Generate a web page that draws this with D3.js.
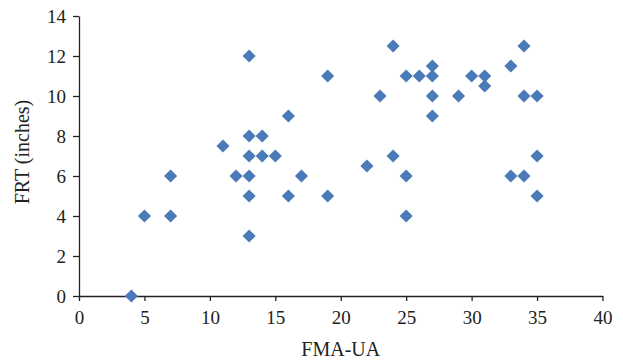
<!DOCTYPE html>
<html>
<head>
<meta charset="utf-8">
<script src="https://cdn.jsdelivr.net/npm/d3@7"></script>
<style>
  body { margin: 0; background: #fff; }
  svg { display: block; }
  .axis text { font-family: "Liberation Serif", serif; font-size: 19px; fill: #222; }
  .axis path, .axis line { stroke: #222; stroke-width: 1.3px; }
  .title { font-family: "Liberation Serif", serif; font-size: 20px; fill: #222; }
</style>
</head>
<body>
<div class="vis"></div>
<script>
// FMA-UA score vs FRT (inches)
var fmaUA = [4, 5, 7, 7, 11, 12, 13, 13, 13, 13, 13, 13, 14, 14, 15, 16, 16, 17, 19, 19,
  22, 23, 24, 24, 25, 25, 25, 26, 27, 27, 27, 27, 29, 30, 31, 31, 33, 33, 34, 34, 34, 35, 35, 35];
var frt = [0, 4, 6, 4, 7.5, 6, 12, 8, 7, 6, 5, 3, 8, 7, 7, 9, 5, 6, 11, 5,
  6.5, 10, 12.5, 7, 11, 6, 4, 11, 11.5, 11, 10, 9, 10, 11, 11, 10.5, 11.5, 6, 12.5, 10, 6, 10, 7, 5];
var xTicks = [0, 5, 10, 15, 20, 25, 30, 35, 40];
var yTicks = [0, 2, 4, 6, 8, 10, 12, 14];

var width = 623, height = 362;
var margin = { left: 79, right: 20, top: 16, bottom: 66 };

var svg = d3.select(".vis").append("svg")
  .attr("width", width)
  .attr("height", height);

var x = d3.scaleLinear().domain([0, 40]).range([margin.left, 602.5]);
var y = d3.scaleLinear().domain([0, 14]).range([296, margin.top]);

var xAxis = svg.append("g")
  .attr("class", "axis")
  .attr("transform", "translate(0," + y(0) + ")")
  .call(d3.axisBottom(x).tickValues(xTicks).tickSize(5).tickSizeOuter(0).tickPadding(6));

var yAxis = svg.append("g")
  .attr("class", "axis")
  .attr("transform", "translate(" + x(0) + ",0)")
  .call(d3.axisLeft(y).tickValues(yTicks).tickSize(6).tickSizeOuter(0).tickPadding(7));

xAxis.selectAll("text").attr("dy", "0.92em");
yAxis.selectAll("text").attr("dy", "0.34em");

var points = fmaUA.map(function(d, i) { return [d, frt[i]]; });

//diamonds = squares turned 45 degrees
var diamond = d3.symbol().type(d3.symbolSquare).size(86);

svg.selectAll(".pt")
  .data(points)
  .enter().append("path")
  .attr("class", "pt")
  .attr("d", diamond)
  .attr("transform", function(d) {
    return "translate(" + x(d[0]) + "," + y(d[1]) + ") rotate(45)";
  })
  .attr("fill", "#4a7ab7");

svg.append("text")
  .attr("class", "title")
  .attr("x", (x(0) + x(40)) / 2)
  .attr("y", 356)
  .attr("text-anchor", "middle")
  .text("FMA-UA");

svg.append("text")
  .attr("class", "title")
  .attr("transform", "translate(29," + y(7.2) + ") rotate(-90)")
  .attr("text-anchor", "middle")
  .text("FRT (inches)");
</script>
</body>
</html>
